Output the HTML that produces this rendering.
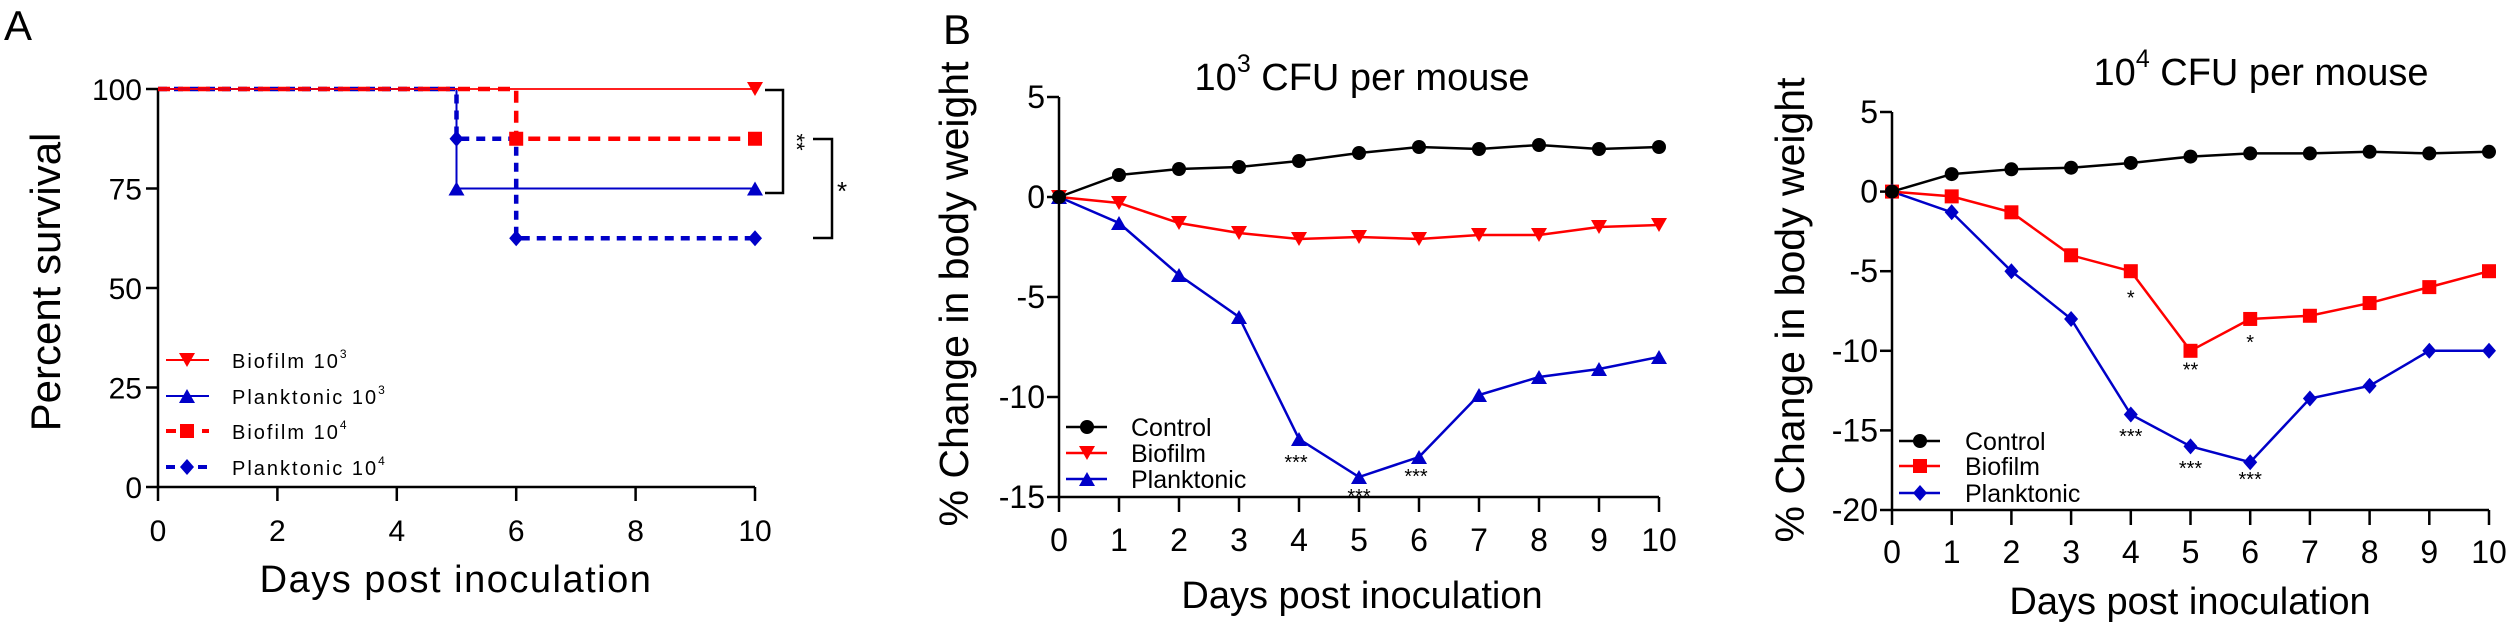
<!DOCTYPE html>
<html><head><meta charset="utf-8"><style>
html,body{margin:0;padding:0;background:#fff;}
svg{display:block;font-family:"Liberation Sans",sans-serif;}
</style></head><body>
<svg id="fig" width="2508" height="631" viewBox="0 0 2508 631" xmlns="http://www.w3.org/2000/svg"></svg>
<script>
// ---- Data ----
const days = [0,1,2,3,4,5,6,7,8,9,10];
const xTicksA = [0,2,4,6,8,10];
const yTicksA = [0,25,50,75,100];
const survBio3 = [[0,100],[10,100]];
const survPlank3 = [[0,100],[5,100],[5,75],[10,75]];
const survBio4 = [[0,100],[6,100],[6,87.5],[10,87.5]];
const survPlank4 = [[0,100],[5,100],[5,87.5],[6,87.5],[6,62.5],[10,62.5]];
const survBio3Marks = [[10,100]];
const survPlank3Marks = [[5,75],[10,75]];
const survBio4Marks = [[6,87.5],[10,87.5]];
const survPlank4Marks = [[5,87.5],[6,62.5],[10,62.5]];

const yTicksB1 = [5,0,-5,-10,-15];
const control3 = [0,1.1,1.4,1.5,1.8,2.2,2.5,2.4,2.6,2.4,2.5];
const biofilm3 = [0,-0.3,-1.3,-1.8,-2.1,-2.0,-2.1,-1.9,-1.9,-1.5,-1.4];
const plank3 = [0,-1.3,-3.9,-6.0,-12.1,-14.0,-13.0,-9.9,-9.0,-8.6,-8.0];
const stars3 = [[3.95,-13.2,'***'],[5,-14.9,'***'],[5.95,-13.9,'***']];

const yTicksB2 = [5,0,-5,-10,-15,-20];
const control4 = [0,1.1,1.4,1.5,1.8,2.2,2.4,2.4,2.5,2.4,2.5];
const biofilm4 = [0,-0.3,-1.3,-4.0,-5.0,-10.0,-8.0,-7.8,-7.0,-6.0,-5.0];
const plank4 = [0,-1.3,-5.0,-8.0,-14.0,-16.0,-17.0,-13.0,-12.2,-10.0,-10.0];
const stars4 = [[4,-6.6,'*'],[5,-11.1,'**'],[6,-9.4,'*'],[4,-15.3,'***'],[5,-17.3,'***'],[6,-18.0,'***']];

// ---- helpers ----
const NS='http://www.w3.org/2000/svg';
const svg=document.getElementById('fig');
function mk(tag,attrs,parent){const e=document.createElementNS(NS,tag);for(const k in attrs)e.setAttribute(k,attrs[k]);(parent||svg).appendChild(e);return e;}
function lin(d0,d1,r0,r1){return v=>r0+(v-d0)*(r1-r0)/(d1-d0);}
function marker(g,type,x,y,color){
  let e;
  if(type==='circle') e=mk('circle',{cx:x,cy:y,r:7,fill:color},g);
  else if(type==='down') e=mk('polygon',{points:`${x-8},${y-7} ${x+8},${y-7} ${x},${y+7}`,fill:color},g);
  else if(type==='up') e=mk('polygon',{points:`${x-8},${y+7} ${x+8},${y+7} ${x},${y-7}`,fill:color},g);
  else if(type==='square') e=mk('rect',{x:x-7,y:y-7,width:14,height:14,fill:color},g);
  else e=mk('polygon',{points:`${x},${y-8} ${x+7},${y} ${x},${y+8} ${x-7},${y}`,fill:color},g);
  
  
  return e;
}
function txt(g,x,y,s,size,anchor,extra){const t=mk('text',Object.assign({x:x,y:y,'font-size':size,'text-anchor':anchor||'middle',fill:'#000'},extra||{}),g);t.textContent=s;return t;}

// ---- Panel A ----
const axA=lin(0,10,158,755), ayA=lin(0,100,487,89);
const gA=mk('g',{});


let lbl=txt(gA,4,40,'A',42,'start');


let ax=mk('path',{d:`M${axA(0)},${ayA(100)}V${ayA(0)}H${axA(10)}`,stroke:'#000','stroke-width':2.5,fill:'none'},gA);


yTicksA.forEach(v=>{
  mk('line',{x1:axA(0)-12,x2:axA(0),y1:ayA(v),y2:ayA(v),stroke:'#000','stroke-width':2.5},gA);
  const t=txt(gA,axA(0)-16,ayA(v)+11,String(v),30,'end');
  
  
});
xTicksA.forEach(v=>{
  mk('line',{x1:axA(v),x2:axA(v),y1:ayA(0),y2:ayA(0)+14,stroke:'#000','stroke-width':2.5},gA);
  const t=txt(gA,axA(v),541,String(v),30);
  
  
});
let yt=txt(gA,0,0,'Percent survival',42,'middle',{transform:'translate(60,282) rotate(-90)'});


let xt=txt(gA,456,592,'Days post inoculation',38,'middle',{'letter-spacing':'1.5'});


const seriesA=[
  [survPlank4,survPlank4Marks,'#0000c8','diamond',4.5,'9,7','planktonic-1e4'],
  [survBio4,survBio4Marks,'#ff0000','square',4.5,'12,8','biofilm-1e4'],
  [survPlank3,survPlank3Marks,'#0000c8','up',2,null,'planktonic-1e3'],
  [survBio3,survBio3Marks,'#ff0000','down',1.8,null,'biofilm-1e3']];
seriesA.forEach(s=>{
  const g=mk('g',{},gA);
  
  
  const a={d:'M'+s[0].map(p=>axA(p[0])+','+ayA(p[1])).join('L'),stroke:s[2],'stroke-width':s[4],fill:'none'};
  if(s[5]) a['stroke-dasharray']=s[5];
  mk('path',a,g);
  s[1].forEach(p=>marker(g,s[3],axA(p[0]),ayA(p[1]),s[2]));
});
const legA=[['Biofilm 10','3','#ff0000','down',null,360],['Planktonic 10','3','#0000c8','up',null,396],['Biofilm 10','4','#ff0000','square','10,8',431],['Planktonic 10','4','#0000c8','diamond','9,7',467]];
legA.forEach(l=>{
  const g=mk('g',{},gA);
  
  
  const a={x1:166,x2:209,y1:l[5],y2:l[5],stroke:l[2],'stroke-width':l[4]?4:2};
  if(l[4]) a['stroke-dasharray']=l[4];
  mk('line',a,g);
  marker(g,l[3],187,l[5],l[2]);
  const t=txt(g,232,l[5]+8,l[0],20,'start',{'letter-spacing':'2'});
  const sp=mk('tspan',{'font-size':12,dy:-10},t);sp.textContent=l[1];
});
const br1=mk('path',{d:'M765,90H783V193H765',stroke:'#000','stroke-width':2.5,fill:'none'},gA);


let s1=txt(gA,0,0,'**',22,'middle',{transform:'translate(789,142) rotate(90)'});


const br2=mk('path',{d:'M813,139H832V238H813',stroke:'#000','stroke-width':2.5,fill:'none'},gA);


let s2=txt(gA,842,200,'*',26);



// ---- Weight panels ----
function weightPanel(name,x0,x1,yTicks,ymax,ymin,yTop,yBot,ctrl,bio,pl,bioMark,plMark,stars,sup,titleX,titleY,yTitleX,yTitleY,xTitleX,xTitleY,tickY,leg){
  const xs=lin(0,10,x0,x1), ys=lin(ymax,ymin,yTop,yBot);
  const g=mk('g',{});
  
  
  const a=mk('path',{d:`M${x0},${yTop}V${yBot}H${x1}`,stroke:'#000','stroke-width':2.5,fill:'none'},g);
  
  
  yTicks.forEach(v=>{
    mk('line',{x1:x0-12,x2:x0,y1:ys(v),y2:ys(v),stroke:'#000','stroke-width':2.5},g);
    const t=txt(g,x0-14,ys(v)+11,String(v),32,'end');
    
    
  });
  days.forEach(d=>{
    mk('line',{x1:xs(d),x2:xs(d),y1:yBot,y2:yBot+15,stroke:'#000','stroke-width':2.5},g);
    const t=txt(g,xs(d),tickY,String(d),32);
    
    
  });
  const tt=txt(g,titleX,titleY,'10',38);
  const sp=mk('tspan',{'font-size':25,dy:-18},tt);sp.textContent=sup;
  const sp2=mk('tspan',{dy:18},tt);sp2.textContent=' CFU per mouse';
  
  
  const yt=txt(g,0,0,'% Change in body weight',41,'middle',{transform:`translate(${yTitleX},${yTitleY}) rotate(-90)`});
  
  
  const xt=txt(g,xTitleX,xTitleY,'Days post inoculation',38);
  
  
  const ser=[[ctrl,'#000','circle','control'],[bio,'#ff0000',bioMark,'biofilm'],[pl,'#0000c8',plMark,'planktonic']];
  ser.slice().reverse().forEach(s=>{
    const sg=mk('g',{},g);
    
    
    mk('path',{d:'M'+s[0].map((v,i)=>xs(days[i])+','+ys(v)).join('L'),stroke:s[1],'stroke-width':2.5,fill:'none'},sg);
    s[0].forEach((v,i)=>marker(sg,s[2],xs(days[i]),ys(v),s[1]));
  });
  stars.forEach(s=>{
    const t=txt(g,xs(s[0]),ys(s[1])+8,s[2],20);
    
    
  });
  const names=['Control','Biofilm','Planktonic'];
  ser.forEach((s,i)=>{
    const lg=mk('g',{},g);
    
    
    const y=leg[1][i];
    mk('line',{x1:leg[0],x2:leg[0]+41,y1:y,y2:y,stroke:s[1],'stroke-width':2.5},lg);
    marker(lg,s[2],leg[0]+21,y,s[1]);
    txt(lg,leg[2],y+9,names[i],25,'start');
  });
  return g;
}
const bl=txt(svg,943,44,'B',42,'start');


weightPanel('panel-b-1e3-chart',1059,1659,yTicksB1,5,-15,97,497,control3,biofilm3,plank3,'down','up',stars3,"3",1362,90,968,294,1362,608,551,[1066,[427,453,479],1131]);
weightPanel('panel-b-1e4-chart',1892,2489,yTicksB2,5,-20,112,510,control4,biofilm4,plank4,'square','diamond',stars4,"4",2261,85,1804,310,2190,614,563,[1899,[441,466,493],1965]);
</script>
</body></html>
